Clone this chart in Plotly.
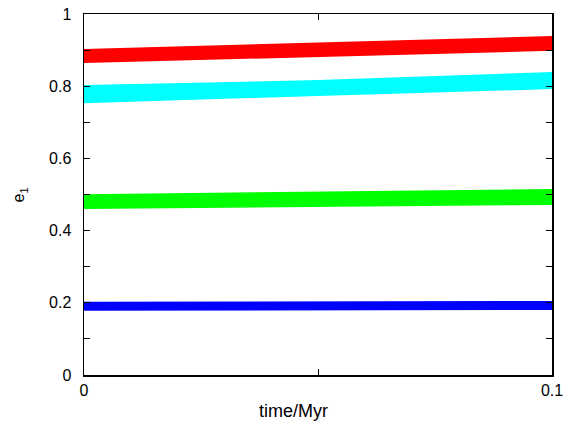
import plotly.graph_objects as go

time = [0.0, 0.05, 0.1]
red_low = [0.864, 0.881, 0.898]
red_high = [0.903, 0.920, 0.939]
cyan_low = [0.753, 0.773, 0.792]
cyan_high = [0.803, 0.817, 0.839]
green_low = [0.460, 0.466, 0.471]
green_high = [0.501, 0.508, 0.515]
blue_low = [0.178, 0.179, 0.180]
blue_high = [0.203, 0.204, 0.205]

x_ticks = [0, 0.1]
x_ticklabels = ["0", "0.1"]
y_ticks = [0, 0.2, 0.4, 0.6, 0.8, 1]
y_ticklabels = ["0", "0.2", "0.4", "0.6", "0.8", "1"]

series = [
    ("red", red_low, red_high, "#ff0000"),
    ("cyan", cyan_low, cyan_high, "#00ffff"),
    ("green", green_low, green_high, "#00ff00"),
    ("blue", blue_low, blue_high, "#0000ff"),
]

fig = go.Figure()
for name, lo, hi, col in series:
    fig.add_trace(go.Scatter(
        x=time + time[::-1],
        y=hi + lo[::-1],
        fill="toself",
        fillcolor=col,
        line=dict(color=col, width=0),
        mode="lines",
        name=name,
        showlegend=False,
        hoverinfo="skip",
    ))

FAM = "Liberation Sans, Arial, sans-serif"
font = dict(family=FAM, size=16, color="black")

fig.update_layout(
    width=572, height=423,
    margin=dict(l=84, r=20, t=14, b=48, autoexpand=False),
    paper_bgcolor="white", plot_bgcolor="white",
    font=font,
    showlegend=False,
)
fig.update_xaxes(
    range=[0, 0.1], tickvals=x_ticks, ticktext=x_ticklabels,
    ticks="inside", ticklen=6, tickcolor="black", tickwidth=1,
    minor=dict(dtick=0.05, ticks="inside", ticklen=6, tickcolor="black"),
    showline=True, linecolor="black", linewidth=1.5, mirror="ticks",
    showgrid=False, zeroline=False, automargin=False,
    ticklabelstandoff=0, ticklabeloverflow="allow",
)
fig.update_yaxes(
    range=[0, 1], tickvals=y_ticks, ticktext=y_ticklabels,
    ticks="inside", ticklen=6, tickcolor="black", tickwidth=1,
    minor=dict(dtick=0.1, ticks="inside", ticklen=6, tickcolor="black"),
    showline=True, linecolor="black", linewidth=1.5, mirror="ticks",
    showgrid=False, zeroline=False, automargin=False,
    ticklabelstandoff=8, ticklabeloverflow="allow",
)
fig.add_annotation(
    text="time/Myr", xref="paper", yref="paper",
    x=0.4487, y=-0.0997, xanchor="center", yanchor="middle",
    showarrow=False, font=dict(family=FAM, size=18, color="black"),
)
fig.add_annotation(
    text="e<sub>1</sub>", xref="paper", yref="paper",
    x=-0.1368, y=0.5, xanchor="center", yanchor="middle",
    textangle=-90, showarrow=False,
    font=dict(family=FAM, size=16, color="black"),
)

fig.write_html(
    "out.html",
    config={"displayModeBar": False, "staticPlot": True},
    post_script="document.body.style.margin='0';document.body.style.padding='0';",
)
